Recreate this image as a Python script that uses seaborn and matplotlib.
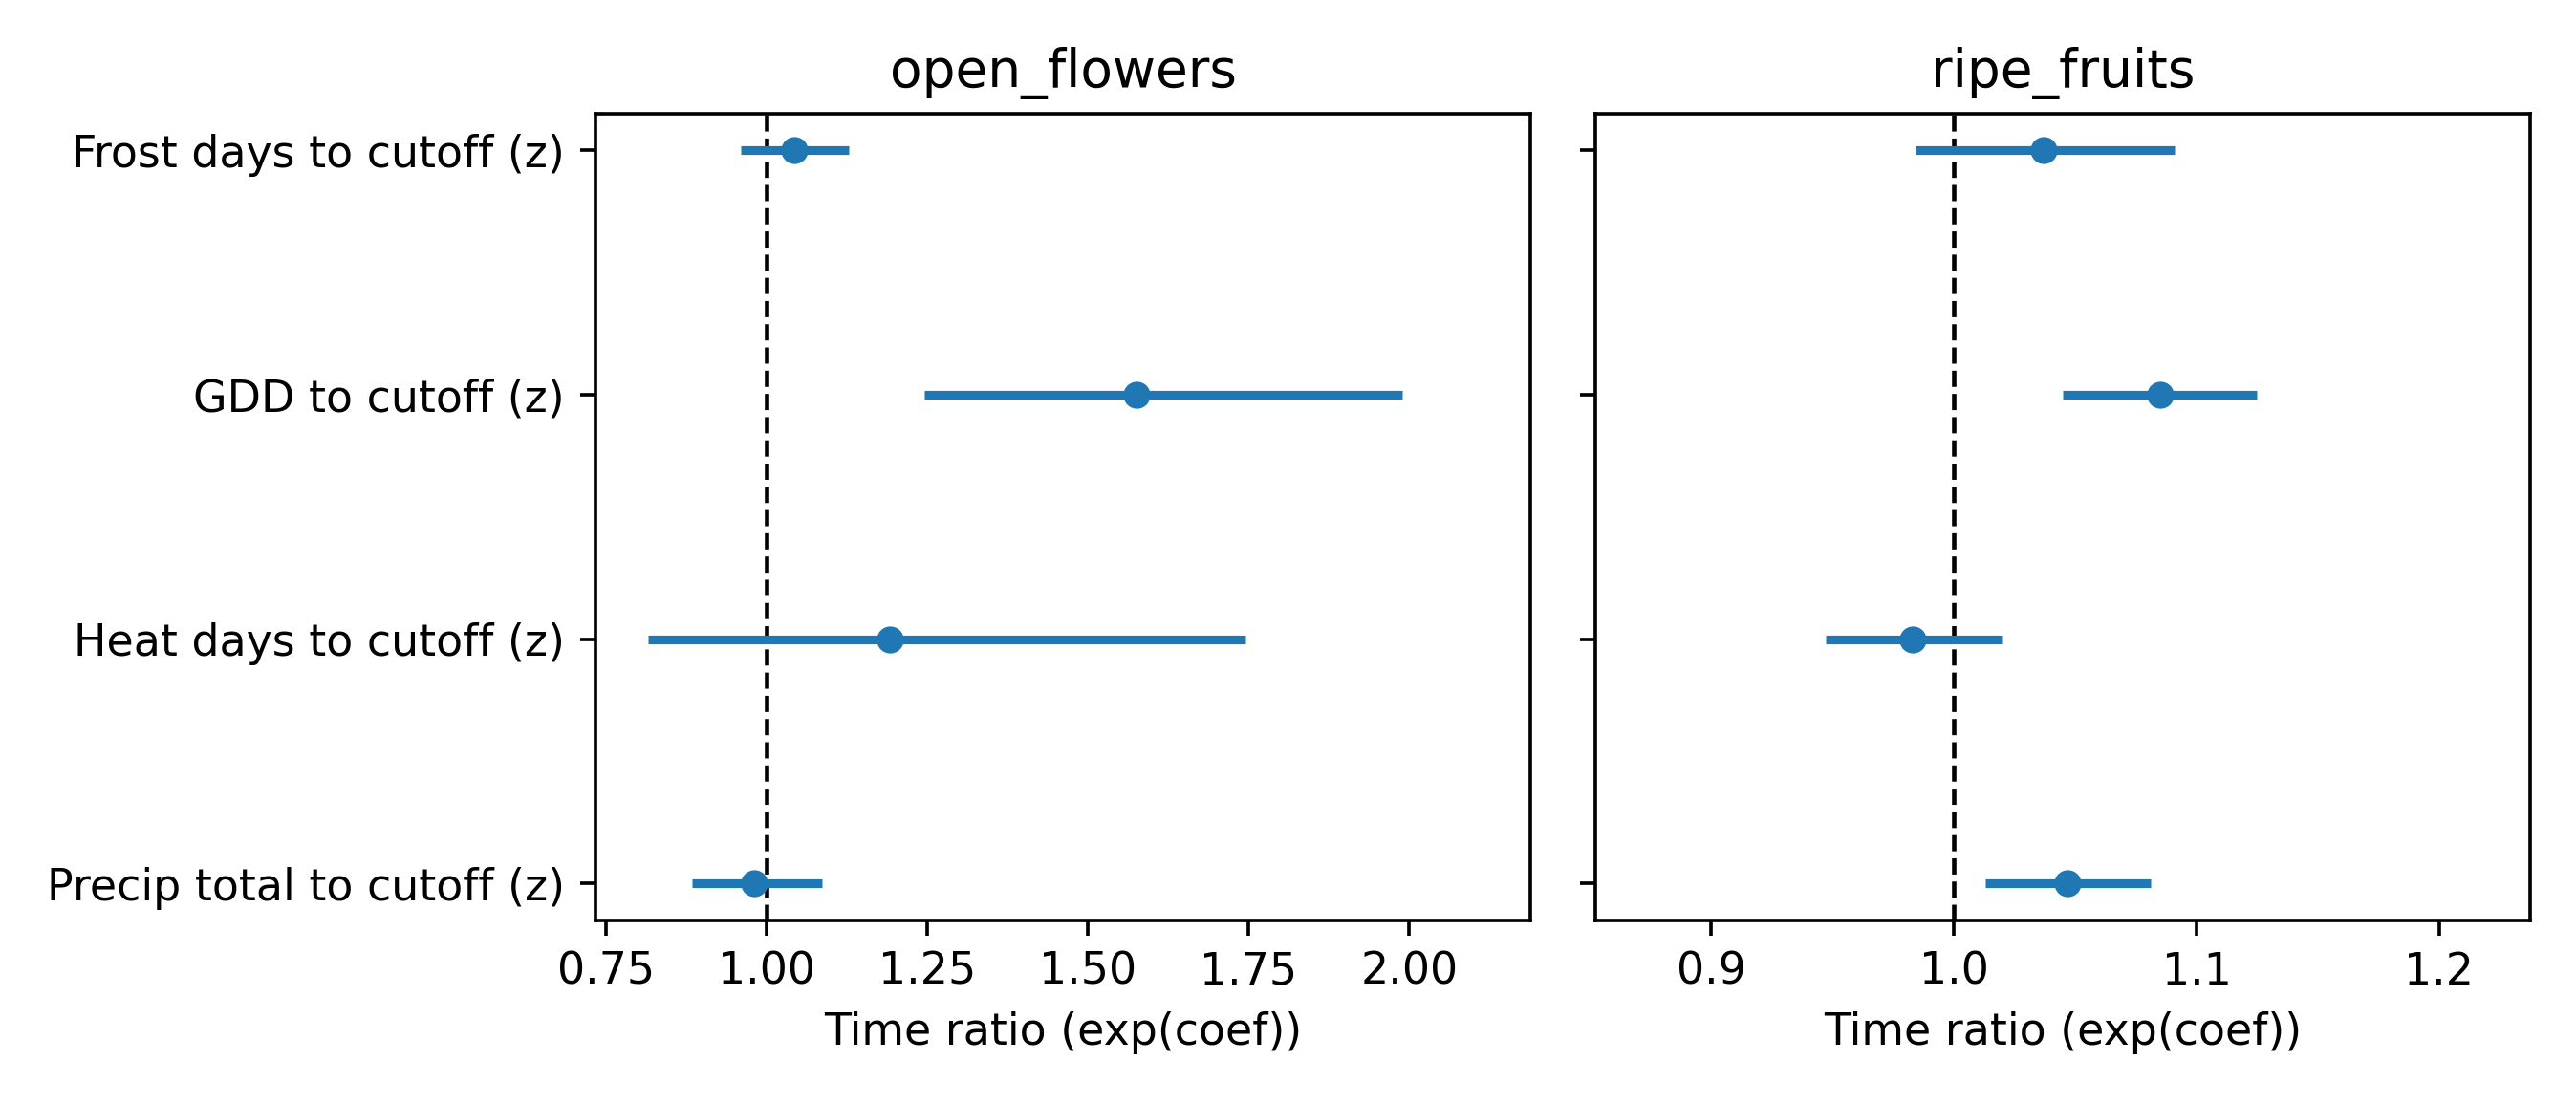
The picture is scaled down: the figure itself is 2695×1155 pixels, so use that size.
import numpy as np
import pandas as pd
import seaborn as sns
import matplotlib
matplotlib.use("Agg")
import matplotlib.pyplot as plt

# values
terms = ["Frost days to cutoff (z)", "GDD to cutoff (z)",
         "Heat days to cutoff (z)", "Precip total to cutoff (z)"]
flowers_tr = [1.043, 1.575, 1.192, 0.981]
flowers_lo = [0.960, 1.246, 0.816, 0.884]
flowers_hi = [1.128, 1.989, 1.745, 1.087]
fruits_tr = [1.037, 1.085, 0.983, 1.047]
fruits_lo = [0.984, 1.045, 0.947, 1.013]
fruits_hi = [1.091, 1.125, 1.020, 1.081]
phases = ["open_flowers", "ripe_fruits"]

sns.set_style("ticks", rc={
    "text.color": "black", "axes.labelcolor": "black",
    "xtick.color": "black", "ytick.color": "black",
    "axes.edgecolor": "black",
})
plt.rcParams['font.family'] = ['DejaVu Sans']
plt.rcParams['xtick.major.size'] = 3.5
plt.rcParams['ytick.major.size'] = 3.5

DPI = 330
color = "#1f77b4"
fig, axes = plt.subplots(1, 2, figsize=(2695 / DPI, 1155 / DPI), dpi=DPI, sharey=True)
fig.subplots_adjust(left=0.2312, right=0.9822, bottom=0.1665, top=0.897, wspace=0.07)

data = {
    "open_flowers": (flowers_tr, flowers_lo, flowers_hi),
    "ripe_fruits": (fruits_tr, fruits_lo, fruits_hi),
}

for ax, phase in zip(axes, phases):
    tr, lo, hi = data[phase]
    df = pd.DataFrame({"term": terms, "tr": tr, "lo": lo, "hi": hi,
                       "pos": np.arange(len(terms))})
    ax.hlines(df["pos"], df["lo"], df["hi"], color=color, lw=2, zorder=2)
    sns.scatterplot(data=df, x="tr", y="pos", ax=ax, color=color, s=38,
                    linewidth=0, zorder=3)
    ax.axvline(1.0, color="black", linestyle="--", lw=1, zorder=1)
    ax.set_xlim(min(lo) * 0.9, max(hi) * 1.1)
    ax.set_ylim(len(terms) - 1 + 0.15, -0.15)
    ax.set_yticks(df["pos"])
    ax.set_yticklabels(terms)
    ax.set_title(phase, fontsize=12)
    ax.set_xlabel("Time ratio (exp(coef))", fontsize=10)
    ax.set_ylabel("")
    ax.tick_params(labelsize=10)
    for s in ax.spines.values():
        s.set_visible(True)
        s.set_color("black")
        s.set_linewidth(0.8)

axes[0].set_xticks([0.75, 1.0, 1.25, 1.5, 1.75, 2.0])
axes[1].set_xticks([0.9, 1.0, 1.1, 1.2])

fig.savefig("out.png", dpi=DPI)
